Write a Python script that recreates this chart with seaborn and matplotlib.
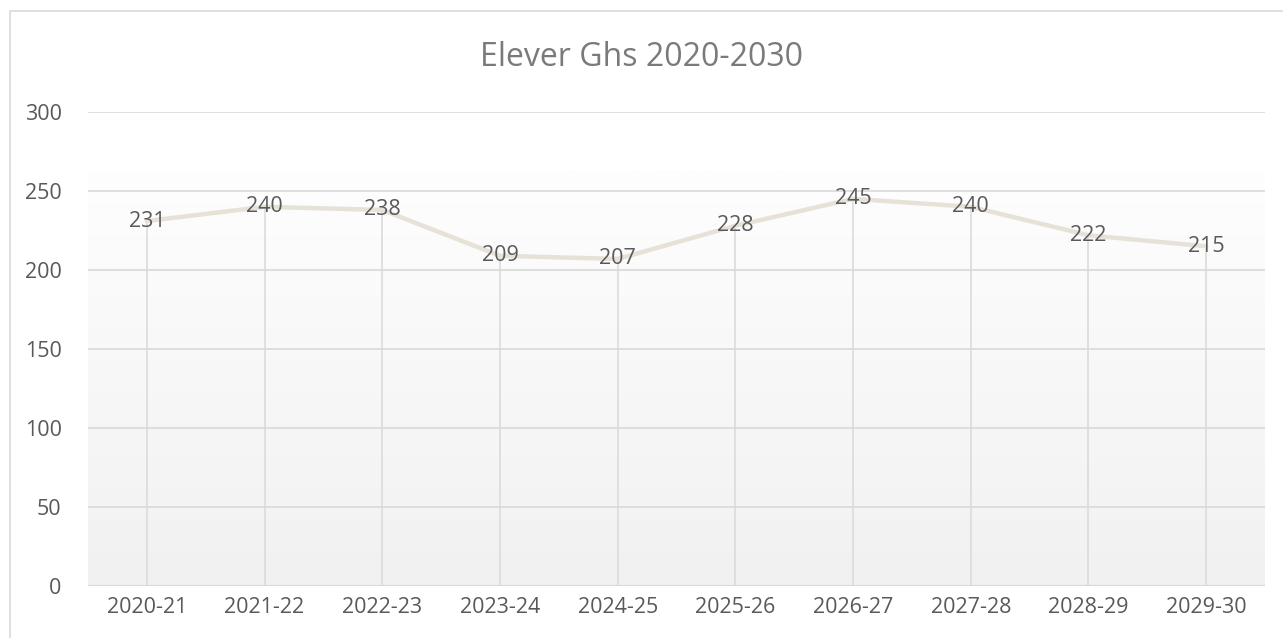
import numpy as np
import pandas as pd
import matplotlib
matplotlib.use("Agg")
import matplotlib.pyplot as plt
from matplotlib.colors import LinearSegmentedColormap
from matplotlib.patches import Rectangle
import seaborn as sns

# ─── Data ─────────────────────────────────────────────────────────────────────
years = ["2020-21", "2021-22", "2022-23", "2023-24", "2024-25",
         "2025-26", "2026-27", "2027-28", "2028-29", "2029-30"]
elever = [231, 240, 238, 209, 207, 228, 245, 240, 222, 215]
y_ticks = [0, 50, 100, 150, 200, 250, 300]

TEXT = "#595959"
GRID = "#d9d9d9"
LINE = "#e7e2d8"

sns.set_theme(style="white")
plt.rcParams["font.family"] = ["Open Sans", "DejaVu Sans"]

df = pd.DataFrame({"year": years, "elever": elever})
df["pos"] = np.arange(len(df))

fig = plt.figure(figsize=(12.83, 6.38), dpi=100)
# outer chart border (cropped on right/bottom like the reference)
fig.patches.append(Rectangle((10 / 1283, -0.1), 1.2, 1.1 - 11 / 638,
                             transform=fig.transFigure, fill=False,
                             edgecolor=GRID, linewidth=1.2))

ax = fig.add_axes([88 / 1283, 1 - 586 / 638, 1177 / 1283, 474 / 638])
ax.set_xlim(-0.5, len(years) - 0.5)
ax.set_ylim(0, 300)

# background gradient (white at top → light grey at bottom)
cmap = LinearSegmentedColormap.from_list("bg", ["#f1f1f1", "#fefefe"])
grad = np.linspace(0, 1, 256).reshape(-1, 1)
ax.imshow(grad, cmap=cmap, aspect="auto", origin="lower",
          extent=(-0.5, len(years) - 0.5, 0, 263), zorder=0)

for t in y_ticks:
    ax.axhline(t, color=GRID, linewidth=1.2 if t else 1.6, zorder=1)

# drop lines
ax.vlines(df["pos"], 0, df["elever"], color=GRID, linewidth=1.1, zorder=1)

sns.lineplot(data=df, x="pos", y="elever", color=LINE, linewidth=3.2,
             ax=ax, zorder=2, legend=False)

for x, v in zip(df["pos"], df["elever"]):
    ax.text(x, v, str(v), ha="center", va="center", fontsize=15.5,
            color=TEXT, zorder=3)

ax.set_xticks(df["pos"])
ax.set_xticklabels(years)
ax.set_yticks(y_ticks)
ax.tick_params(axis="both", length=0, labelsize=15.5, labelcolor=TEXT)
ax.tick_params(axis="x", pad=8)
ax.tick_params(axis="y", pad=19)
for lbl in ax.get_yticklabels():
    lbl.set_horizontalalignment("right")
ax.set_xlabel("")
ax.set_ylabel("")
for s in ax.spines.values():
    s.set_visible(False)

fig.text(0.5, 1 - 57 / 638, "Elever Ghs 2020-2030", ha="center", va="center",
         fontsize=23, color="#7a7a7a")

fig.savefig("out.png", dpi=100)
